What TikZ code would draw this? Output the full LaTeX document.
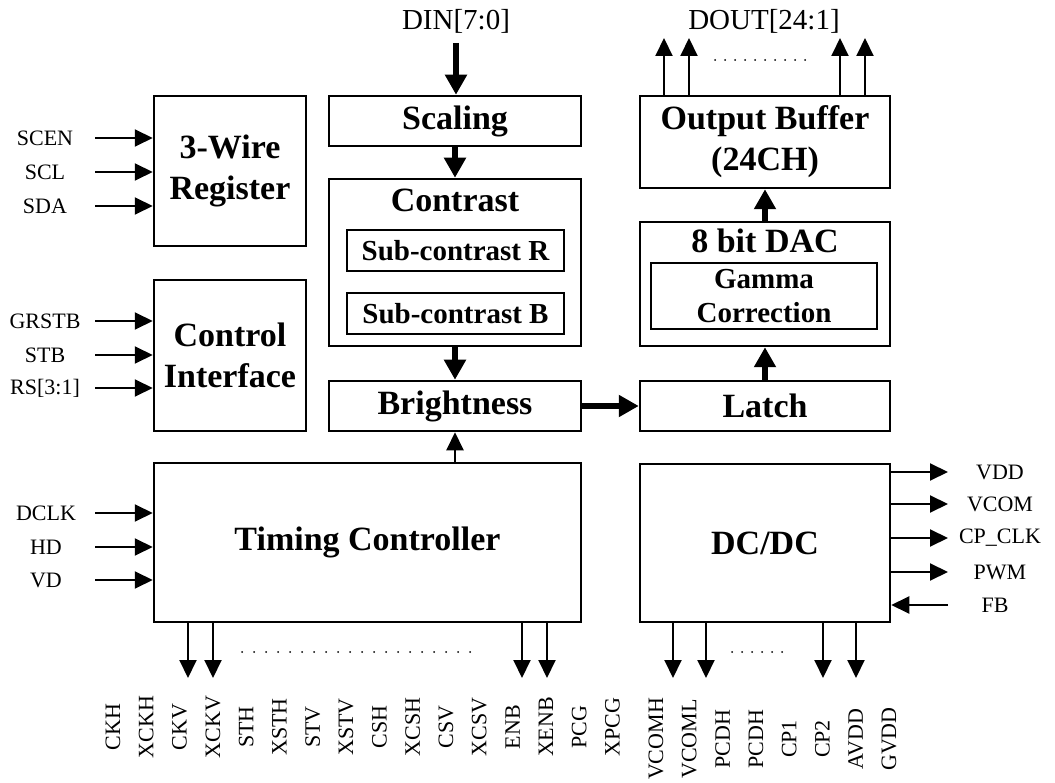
\documentclass[tikz,border=0pt]{standalone}
\usepackage{fontspec}
\setmainfont{Liberation Serif}
\usetikzlibrary{arrows.meta}

\tikzset{
  blk/.style={draw, line width=2.5, inner sep=0, align=center, font=\fontsize{34}{41}\selectfont\bfseries},
  subblk/.style={blk, font=\fontsize{29}{34}\selectfont\bfseries},
  ttl/.style={inner sep=0, font=\fontsize{34}{41}\selectfont\bfseries},
  lbl/.style={inner sep=0, font=\fontsize{22}{26}\selectfont},
  toplbl/.style={inner sep=0, font=\fontsize{29}{34}\selectfont},
  sig/.style={line width=2, -{Triangle[length=18pt,width=17pt]}},
  bus/.style={line width=6, -{Triangle[length=20pt,width=21pt]}},
  dotrow/.style={line width=2, line cap=round, dash pattern=on 0pt off #1},
  dotrow/.default=10
}

\begin{document}
\begin{tikzpicture}[x=1pt, y=-1pt]
\useasboundingbox (0,0) rectangle (1055,783);

\node[blk, minimum width=152, minimum height=150] (reg) at (230,171) {3-Wire\\Register};
\node[blk, minimum width=152, minimum height=151] (ctrl) at (230,355.5) {Control\\Interface};
\node[blk, minimum width=427, minimum height=159] (tc) at (367.5,542.5) {Timing Controller};

\node[blk, minimum width=252, minimum height=50] (scal) at (455,121) {Scaling};
\node[blk, minimum width=252, minimum height=167] (contr) at (455,262.5) {};
\node[ttl] (contr-t) at (455,200) {Contrast};
\node[subblk, minimum width=217, minimum height=41] (subr) at (455.5,250.5) {Sub-contrast R};
\node[subblk, minimum width=217, minimum height=41] (subb) at (455.5,313.5) {Sub-contrast B};
\node[blk, minimum width=252, minimum height=50] (brt) at (455,406) {Brightness};

\node[blk, minimum width=250, minimum height=92] (obuf) at (765,142) {Output Buffer\\(24CH)};
\node[blk, minimum width=250, minimum height=124] (dac) at (765,284) {};
\node[ttl] (dac-t) at (765,241) {8 bit DAC};
\node[subblk, minimum width=226, minimum height=66] (gam) at (764,296) {Gamma\\Correction};
\node[blk, minimum width=250, minimum height=50] (latch) at (765,406) {Latch};
\node[blk, minimum width=250, minimum height=158] (dcdc) at (765,543) {DC/DC};

\node[toplbl] (din) at (456,21) {DIN[7:0]};
\node[toplbl] (dout) at (764,21) {DOUT[24:1]};

\coordinate (dinc) at (456,43);
\draw[bus] (dinc) -- (dinc |- scal.north);
\draw[bus] (scal) -- (contr);
\draw[bus] (contr) -- (brt);
\draw[sig] (tc.north -| brt) -- (brt);
\draw[bus] (brt) -- (latch);
\draw[bus] (latch) -- (dac);
\draw[bus] (dac) -- (obuf);

\foreach \x [count=\i] in {664,689,840,865} {
  \coordinate (o\i) at (\x,38);
  \draw[sig] (o\i |- obuf.north) -- (o\i);
}
\draw[dotrow] (715,60) -- (807,60);

\foreach \txt/\y [count=\i] in {SCEN/138, SCL/172, SDA/206} {
  \node[lbl] (r\i) at (45,\y) {\txt};
  \coordinate (rs\i) at (95,\y);
  \draw[sig] (rs\i) -- (rs\i -| reg.west);
}
\foreach \txt/\y [count=\i] in {GRSTB/321, STB/355, {RS[3:1]}/388} {
  \node[lbl] (c\i) at (45,\y) {\txt};
  \coordinate (cs\i) at (95,\y);
  \draw[sig] (cs\i) -- (cs\i -| ctrl.west);
}
\foreach \txt/\y [count=\i] in {DCLK/513, HD/547, VD/580} {
  \node[lbl] (t\i) at (46,\y) {\txt};
  \coordinate (ts\i) at (95,\y);
  \draw[sig] (ts\i) -- (ts\i -| tc.west);
}

\foreach \txt/\y [count=\i] in {VDD/472, VCOM/504, CP\_CLK/538, PWM/572} {
  \node[lbl] (d\i) at (1000,\y) {\txt};
  \coordinate (ds\i) at (948,\y);
  \draw[sig] (ds\i -| dcdc.east) -- (ds\i);
}
\node[lbl] (fb) at (995,605) {FB};
\coordinate (fbs) at (948,605);
\draw[sig] (fbs) -- (fbs -| dcdc.east);

\foreach \x [count=\i] in {188,213,522,547} {
  \coordinate (tb\i) at (\x,678);
  \draw[sig] (tb\i |- tc.south) -- (tb\i);
}
\draw[dotrow=12] (242,652) -- (480,652);
\foreach \x [count=\i] in {673,706,823,856} {
  \coordinate (db\i) at (\x,678);
  \draw[sig] (db\i |- dcdc.south) -- (db\i);
}
\draw[dotrow] (732,652) -- (790,652);

\foreach \txt [count=\i from 0] in {CKH,XCKH,CKV,XCKV,STH,XSTH,STV,XSTV,CSH,XCSH,CSV,XCSV,ENB,XENB,PCG,XPCG}
  \node[lbl, rotate=90] (tl\i) at (113+33.3*\i,727) {\txt};
\foreach \txt [count=\i from 0] in {VCOMH,VCOML,PCDH,PCDH,CP1,CP2,AVDD,GVDD}
  \node[lbl, rotate=90] (dl\i) at (656+33.3*\i,739) {\txt};

\end{tikzpicture}
\end{document}
